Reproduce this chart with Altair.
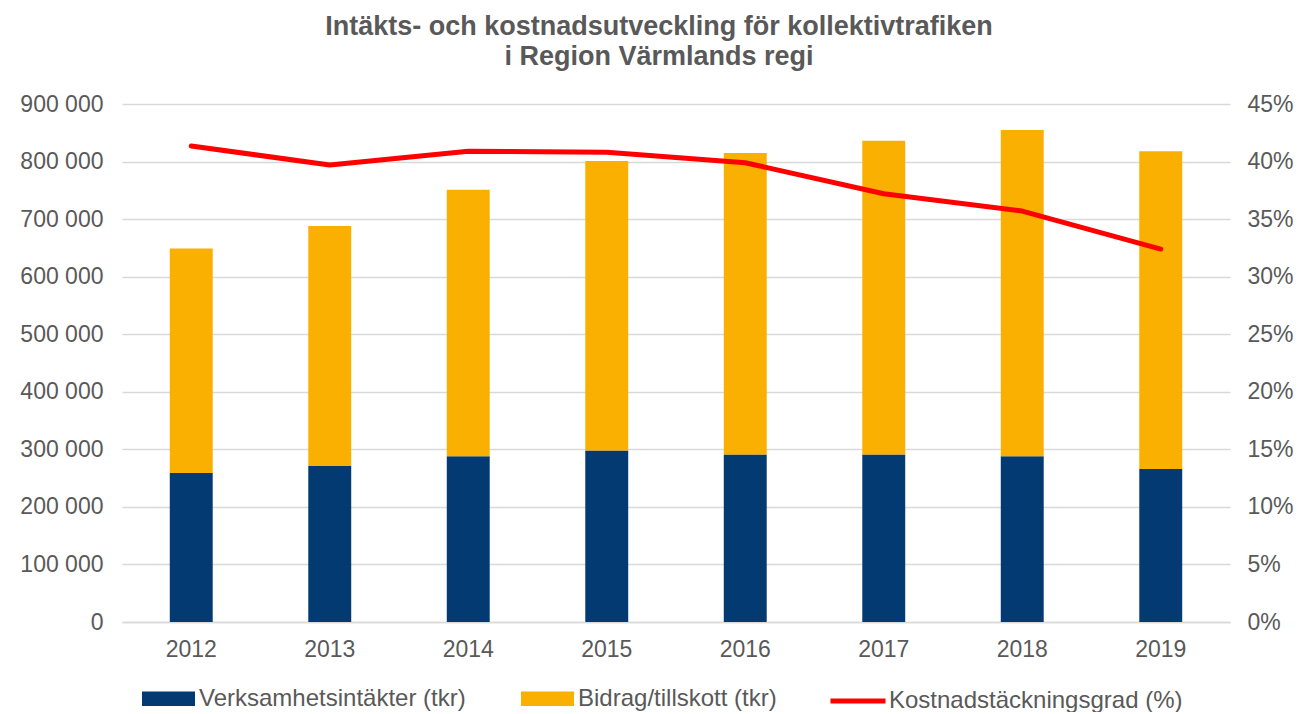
import altair as alt
import pandas as pd

years = ["2012", "2013", "2014", "2015", "2016", "2017", "2018", "2019"]
intakter = [259000, 271000, 288000, 298000, 291000, 291000, 288000, 266000]
bidrag = [390000, 417000, 463000, 503000, 524000, 545000, 567000, 552000]
grad = [0.4135, 0.397, 0.409, 0.408, 0.399, 0.372, 0.357, 0.324]

s1 = "Verksamhetsintäkter (tkr)"
s2 = "Bidrag/tillskott (tkr)"
s3 = "Kostnadstäckningsgrad (%)"

rows = []
for i, y in enumerate(years):
    rows.append({"year": y, "series": s1, "value": intakter[i], "ord": 0})
    rows.append({"year": y, "series": s2, "value": bidrag[i], "ord": 1})
bars_df = pd.DataFrame(rows)
line_df = pd.DataFrame({"year": years, "grad": grad, "series": [s3] * len(years)})

FONT = "Liberation Sans"
TXT = "#595959"
GRID = "#D9D9D9"

x = alt.X("year:N", title=None,
          scale=alt.Scale(paddingInner=0.69, paddingOuter=0.345),
          axis=alt.Axis(labelAngle=0, labelFontSize=23, labelColor=TXT, labelFont=FONT,
                        ticks=False, domainColor=GRID, domainWidth=1.5, labelPadding=16))

bars = alt.Chart(bars_df).mark_bar().encode(
    x=x,
    y=alt.Y("value:Q", stack="zero", title=None,
            scale=alt.Scale(domain=[0, 900000], nice=False),
            axis=alt.Axis(values=list(range(0, 900001, 100000)), labelFontSize=23,
                          labelColor=TXT, labelFont=FONT, ticks=False, domain=False,
                          gridColor=GRID, gridWidth=1.5, labelPadding=19,
                          labelExpr="replace(format(datum.value, ','), ',', ' ')")),
    color=alt.Color("series:N", title=None,
                    scale=alt.Scale(domain=[s1, s2], range=["#033A71", "#F9B000"]),
                    legend=alt.Legend(orient="none", legendX=20, legendY=568,
                                      direction="horizontal",
                                      symbolType="M-1,-0.27H1V0.27H-1Z", symbolSize=2809,
                                      symbolStrokeWidth=0, labelFontSize=24, labelColor=TXT,
                                      labelFont=FONT, columnPadding=55, labelOffset=4,
                                      labelLimit=0, symbolOpacity=1, padding=0)),
    order=alt.Order("ord:Q", sort="ascending"),
)

line = alt.Chart(line_df).mark_line(strokeWidth=5, strokeCap="round", strokeJoin="round").encode(
    x=x,
    y=alt.Y("grad:Q", title=None,
            scale=alt.Scale(domain=[0, 0.45], nice=False),
            axis=alt.Axis(orient="right", values=[i * 0.05 for i in range(10)], format=".0%",
                          labelFontSize=23, labelColor=TXT, labelFont=FONT, ticks=False,
                          domain=False, grid=False, labelPadding=17)),
    stroke=alt.Stroke("series:N", title=None,
                      scale=alt.Scale(domain=[s3], range=["#FF0000"]),
                      legend=alt.Legend(orient="none", legendX=706, legendY=567,
                                        symbolType="stroke", symbolSize=3025,
                                        symbolStrokeWidth=5, labelFontSize=24, labelColor=TXT,
                                        labelFont=FONT, labelOffset=1, labelLimit=0, padding=0)),
)

chart = alt.layer(bars, line).resolve_scale(y="independent").properties(
    width=1108, height=518,
    autosize=alt.AutoSizeParams(type="none"),
    padding={"left": 114, "top": 96, "right": 66, "bottom": 90},
    title=alt.Title(["Intäkts- och kostnadsutveckling för kollektivtrafiken", "i Region Värmlands regi"],
                    font=FONT, fontSize=27, fontWeight="bold", color=TXT, anchor="middle",
                    offset=22, lineHeight=30, dx=-17),
).configure_view(stroke=None)

chart.save("out.html", embed_options={"renderer": "svg", "actions": False})
